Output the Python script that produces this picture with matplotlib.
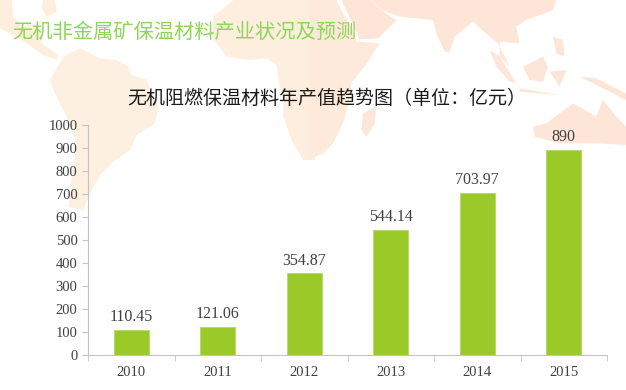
import matplotlib
matplotlib.use('Agg')
from matplotlib import pyplot as plt
from matplotlib.patches import Polygon

plt.rcParams['font.family'] = ['Noto Sans CJK SC', 'DejaVu Sans']

# Data
years = ['2010', '2011', '2012', '2013', '2014', '2015']
values = [110.45, 121.06, 354.87, 544.14, 703.97, 890]
value_labels = ['110.45', '121.06', '354.87', '544.14', '703.97', '890']
yticks = list(range(0, 1001, 100))

# faint world map behind the chart, traced at 3x from the left / right half of the picture
left_land = [
    ('#fdeede', [(0, 0), (35, 0), (40, 50), (70, 80), (90, 70), (120, 85), (125, 130), (175, 165),
                 (170, 180), (130, 165), (80, 130), (30, 100), (0, 85)]),
    ('#fdeede', [(130, 0), (165, 0), (170, 35), (140, 50), (125, 25)]),
    ('#fdf0e0', [(150, 240), (190, 170), (240, 145), (300, 175), (350, 180), (385, 200), (395, 225),
                 (440, 240), (475, 320), (465, 370), (410, 405), (390, 450), (340, 485), (300, 525),
                 (270, 580), (250, 630), (205, 620), (215, 540), (230, 430), (200, 350), (160, 270)]),
    ('#fdeede', [(640, 50), (700, 0), (945, 0), (945, 480), (910, 480), (875, 420), (850, 350), (850, 300),
                 (835, 240), (830, 195), (800, 175), (750, 180), (680, 170), (635, 110)]),
]
right_land = [
    ('#fdeada', [(-10, 0), (70, 0), (85, 30), (120, 90), (130, 125), (200, 130), (165, 185), (115, 250),
                 (110, 300), (90, 370), (60, 430), (30, 460), (-10, 478)]),
    ('#fde6d8', [(85, 0), (175, 0), (205, 30), (260, 50), (360, 60), (370, 100), (395, 155), (410, 155),
                 (425, 110), (480, 65), (530, 110), (555, 130), (580, 180), (615, 250), (590, 200),
                 (560, 170), (560, 125), (620, 130), (610, 80), (640, 60), (720, 30), (730, 0), (175, 0),
                 (205, 30), (250, 62), (195, 115), (140, 118)]),
    ('#fde6d8', [(150, 340), (190, 320), (185, 370), (160, 410), (145, 390)]),
    ('#fde6d8', [(630, 200), (690, 170), (705, 200), (690, 245), (650, 240)]),
    ('#fde6d8', [(530, 150), (560, 170), (610, 250), (590, 245), (550, 200)]),
    ('#fde6d8', [(720, 110), (750, 120), (755, 170), (730, 160)]),
    ('#fde6d8', [(710, 215), (760, 210), (740, 260)]),
    ('#fde6d8', [(800, 230), (850, 235), (939, 280), (939, 300), (880, 270)]),
    ('#fde6d8', [(620, 265), (740, 285), (620, 275)]),
    ('#fde6d8', [(660, 380), (700, 370), (780, 310), (850, 350), (870, 300), (910, 350), (939, 380),
                 (939, 435), (850, 430), (740, 430), (665, 410)]),
]

fig = plt.figure(figsize=(6.26, 3.90), dpi=100)
bg = fig.add_axes([0, 0, 1, 1], zorder=0)
bg.set_xlim(0, 626)
bg.set_ylim(390, 0)
bg.axis('off')
for color, pts in left_land:
    bg.add_patch(Polygon([(x / 3, y / 3) for x, y in pts], facecolor=color, edgecolor='none'))
for color, pts in right_land:
    bg.add_patch(Polygon([(313 + x / 3, y / 3) for x, y in pts], facecolor=color, edgecolor='none'))

ax = fig.add_axes([88 / 626, 1 - 355 / 390, 519 / 626, 230 / 390], zorder=1)
ax.patch.set_alpha(0)
ax.bar(years, values, width=0.405, color='#9aca27', edgecolor='#b5d96a', linewidth=0.6)
ax.set_xlim(-0.5, 5.5)
ax.set_ylim(0, 1000)
ax.set_yticks(yticks)
ax.set_xticks([x - 0.5 for x in range(7)], minor=True)
ax.tick_params(axis='x', which='major', length=0, pad=8)
ax.tick_params(axis='x', which='minor', length=4, color='#c4c4c4', direction='out')
ax.tick_params(axis='y', length=4, color='#c4c4c4', pad=3.5)
for lab in ax.get_xticklabels() + ax.get_yticklabels():
    lab.set_family('Liberation Serif')
    lab.set_fontsize(10.5)
    lab.set_color('#404040')
for side in ['top', 'right']:
    ax.spines[side].set_visible(False)
for side in ['left', 'bottom']:
    ax.spines[side].set_color('#c4c4c4')

for i, v in enumerate(values):
    ax.annotate(value_labels[i], (i, v), xytext=(0, 3.5), textcoords='offset points', ha='center',
                va='bottom', family='Liberation Serif', fontsize=11.5, color='#404040')

fig.text(12 / 626, 1 - 32 / 390, '无机非金属矿保温材料产业状况及预测', fontsize=14.6, color='#8ed65a', va='center')
fig.text(127 / 626, 1 - 98 / 390, '无机阻燃保温材料年产值趋势图（单位：亿元）', fontsize=13.7, color='#1a1a1a',
         ha='left', va='center')

plt.savefig('out.png', dpi=100)
